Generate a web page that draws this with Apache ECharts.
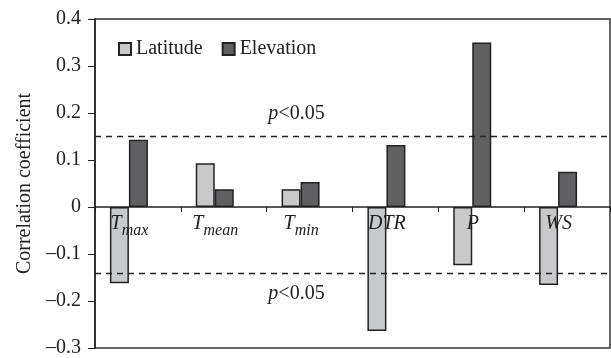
<!DOCTYPE html>
<html>
<head>
<meta charset="utf-8">
<script src="https://cdn.jsdelivr.net/npm/echarts@6/dist/echarts.min.js"></script>
<style>html,body{margin:0;padding:0;background:#fff}#c{width:611px;height:358px}</style>
</head>
<body>
<div id="c"></div>
<script>
var categories = ['Tmax', 'Tmean', 'Tmin', 'DTR', 'P', 'WS'];
var labelParts = {Tmax: ['T', 'max'], Tmean: ['T', 'mean'], Tmin: ['T', 'min'], DTR: ['DTR', ''], P: ['P', ''], WS: ['WS', '']};
var latitude = [-0.162, 0.093, 0.038, -0.264, -0.124, -0.166];
var elevation = [0.143, 0.038, 0.053, 0.132, 0.350, 0.075];
var spacer = [null, null, null, null, null, null];
var sigUpper = 0.147;
var sigLower = -0.138;
var yTicks = {min: -0.3, max: 0.4, interval: 0.1};

var serif = '"Liberation Serif", "Times New Roman", serif';
var gridTop = 19, gridBottom = 10, H = 358;
var gridH = H - gridTop - gridBottom;
var zeroFromBottom = gridH * (0 - yTicks.min) / (yTicks.max - yTicks.min);

var chart = echarts.init(document.getElementById('c'));
function sigLabel(pos, off) {
  return {
    show: true, position: pos, distance: 6, offset: off,
    formatter: '{i|p}{n|<0.05}',
    rich: {
      i: {fontFamily: serif, fontStyle: 'italic', fontSize: 20, color: '#222'},
      n: {fontFamily: serif, fontSize: 20, color: '#222'}
    }
  };
}
chart.setOption({
  animation: false,
  textStyle: {fontFamily: serif},
  grid: {left: 95, right: 1, top: gridTop, bottom: gridBottom, show: true, borderColor: '#333', borderWidth: 1.5, containLabel: false, outerBoundsMode: 'none'},
  legend: {
    left: 118, top: 39, padding: 0, itemWidth: 12, itemHeight: 12, itemGap: 19, icon: 'rect',
    textStyle: {fontFamily: serif, fontSize: 20, color: '#222'},
    data: ['Latitude', 'Elevation']
  },
  xAxis: {
    type: 'category', data: categories, position: 'bottom', offset: -zeroFromBottom, z: 10,
    axisLine: {onZero: false, lineStyle: {color: '#222', width: 1.5}},
    axisTick: {show: true, length: 5, lineStyle: {color: '#222'}},
    axisLabel: {
      margin: 7, interval: 0, padding: [0, 17, 0, 0],
      formatter: function (v) {
        var p = labelParts[v];
        return p[1] ? '{t|' + p[0] + '}{s|' + p[1] + '}' : '{t|' + p[0] + '}';
      },
      rich: {
        t: {fontFamily: serif, fontStyle: 'italic', fontSize: 20, color: '#222', lineHeight: 20, verticalAlign: 'top'},
        s: {fontFamily: serif, fontStyle: 'italic', fontSize: 16, color: '#222', lineHeight: 20, verticalAlign: 'top', padding: [9, 0, 0, 0]}
      }
    },
    splitLine: {show: false}
  },
  yAxis: {
    type: 'value', min: yTicks.min, max: yTicks.max, interval: yTicks.interval,
    name: 'Correlation coefficient', nameLocation: 'middle', nameGap: 60, nameRotate: 90,
    nameTextStyle: {fontFamily: serif, fontSize: 20, color: '#222'},
    axisLine: {show: true, lineStyle: {color: '#222', width: 1.5}},
    axisTick: {show: true, length: 7, inside: false, lineStyle: {color: '#222'}},
    axisLabel: {
      margin: 14, fontFamily: serif, fontSize: 20, color: '#222',
      formatter: function (v) { var r = Math.round(v * 10) / 10; return (r === 0 ? '0' : r.toFixed(1)).replace('-', '\u2013'); }
    },
    splitLine: {show: false}
  },
  series: [
    {
      name: 'Latitude', type: 'bar', data: latitude, barWidth: 19, barGap: '0%',
      itemStyle: {color: '#c8c9cb', borderColor: '#222', borderWidth: 1.5},
      markLine: {
        silent: true, symbol: 'none',
        lineStyle: {color: '#222', type: [6, 5], width: 1.3},
        data: [
          {yAxis: sigUpper, label: sigLabel('insideMiddleTop', [-56, -7])},
          {yAxis: sigLower, label: sigLabel('insideMiddleBottom', [-56, 5])}
        ]
      }
    },
    {
      name: 'Elevation', type: 'bar', data: elevation, barWidth: 19,
      itemStyle: {color: '#606062', borderColor: '#222', borderWidth: 1.5}
    },
    {
      name: 'spacer', type: 'bar', data: spacer, barWidth: 18, silent: true,
      itemStyle: {color: 'transparent'}
    }
  ]
});
</script>
</body>
</html>
